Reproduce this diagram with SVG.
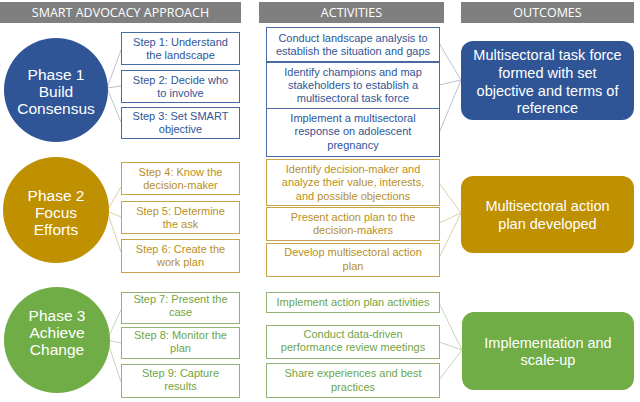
<svg xmlns="http://www.w3.org/2000/svg" width="640" height="402" viewBox="0 0 640 402">
<style>
  .hdr { fill: #7f7f7f; }
  .hdrt { font-family: "Open Sans", "Liberation Sans", sans-serif; font-size: 12.5px; fill: #ffffff; text-anchor: middle; }
  .t { font-family: "Liberation Sans", Arial, sans-serif; font-size: 11px; text-anchor: middle; }
  .ph { font-family: "Liberation Sans", Arial, sans-serif; font-size: 15.5px; fill: #ffffff; text-anchor: middle; }
  .out { font-family: "Liberation Sans", Arial, sans-serif; font-size: 14.5px; fill: #ffffff; text-anchor: middle; }
  .box { fill: #ffffff; stroke-width: 1; }
  .b { stroke: #4a6aa3; }
  .g { stroke: #c7a44a; }
  .gr { stroke: #93b27a; }
  .tb { fill: #2f5597; }
  .tg { fill: #b8901c; }
  .tgr { fill: #6fa546; }
  .c1 { fill: #2f5597; }
  .c2 { fill: #bf9000; }
  .c3 { fill: #70ad47; }
  .ln { fill: none; stroke-width: 0.8; }
  .lb { stroke: #a9b3c6; }
  .lg { stroke: #d3c28f; }
  .lgr { stroke: #b7c9a6; }
</style>

<g id="headers">
  <rect class="hdr" x="0" y="2" width="241" height="21"/>
  <text class="hdrt" x="120.5" y="17">SMART ADVOCACY APPROACH</text>
  <rect class="hdr" x="259" y="2" width="185" height="21"/>
  <text class="hdrt" x="351.5" y="17">ACTIVITIES</text>
  <rect class="hdr" x="461" y="2" width="173" height="21"/>
  <text class="hdrt" x="547.5" y="17">OUTCOMES</text>
</g>

<g id="connectors">
  <path class="ln lb" d="M107,88 L121,50 M107,88 L121,86 M107,88 L121,122"/>
  <path class="ln lg" d="M107,211 L121,187 M107,211 L121,217 M107,211 L121,252"/>
  <path class="ln lgr" d="M107,340 L121,310 M107,340 L121,343 M107,340 L121,382"/>
  <path class="ln lb" d="M439,43 L461,80 M439,85 L461,80 M439,133 L461,80"/>
  <path class="ln lg" d="M439,183 L461,213 M439,223 L461,213 M439,258 L461,213"/>
  <path class="ln lgr" d="M439,303 L462,350 M439,342 L462,350 M439,380 L462,350"/>
</g>

<g id="phase1">
  <circle class="c1" cx="56" cy="90" r="52"/>
  <text class="ph" x="56" y="79.5">Phase 1</text>
  <text class="ph" x="56" y="96.5">Build</text>
  <text class="ph" x="56" y="113.5">Consensus</text>
</g>
<g id="phase2">
  <circle class="c2" cx="56" cy="210" r="53"/>
  <text class="ph" x="56" y="200.5">Phase 2</text>
  <text class="ph" x="56" y="217.5">Focus</text>
  <text class="ph" x="56" y="234.5">Efforts</text>
</g>
<g id="phase3">
  <circle class="c3" cx="57" cy="340" r="53"/>
  <text class="ph" x="57" y="321">Phase 3</text>
  <text class="ph" x="57" y="338">Achieve</text>
  <text class="ph" x="57" y="355">Change</text>
</g>

<g id="step1"><rect class="box b" x="121.5" y="32.5" width="118" height="32"/><text class="t tb" x="180.5" y="45.5">Step 1: Understand</text><text class="t tb" x="180.5" y="58.5">the landscape</text></g>
<g id="step2"><rect class="box b" x="121.5" y="70.5" width="118" height="32"/><text class="t tb" x="180.5" y="83.5">Step 2: Decide who</text><text class="t tb" x="180.5" y="96.5">to involve</text></g>
<g id="step3"><rect class="box b" x="121.5" y="107.5" width="118" height="31"/><text class="t tb" x="180.5" y="120">Step 3: Set SMART</text><text class="t tb" x="180.5" y="133">objective</text></g>
<g id="step4"><rect class="box g" x="121.5" y="162.5" width="118" height="32"/><text class="t tg" x="180.5" y="175.5">Step 4: Know the</text><text class="t tg" x="180.5" y="188.5">decision-maker</text></g>
<g id="step5"><rect class="box g" x="121.5" y="201.5" width="118" height="32"/><text class="t tg" x="180.5" y="214.5">Step 5: Determine</text><text class="t tg" x="180.5" y="227.5">the ask</text></g>
<g id="step6"><rect class="box g" x="121.5" y="239.5" width="118" height="33"/><text class="t tg" x="180.5" y="253">Step 6: Create the</text><text class="t tg" x="180.5" y="266">work plan</text></g>
<g id="step7"><rect class="box gr" x="121.5" y="292.5" width="118" height="31"/><text class="t tgr" x="180.5" y="303">Step 7: Present the</text><text class="t tgr" x="180.5" y="316">case</text></g>
<g id="step8"><rect class="box gr" x="121.5" y="327.5" width="118" height="31"/><text class="t tgr" x="180.5" y="339">Step 8: Monitor the</text><text class="t tgr" x="180.5" y="352">plan</text></g>
<g id="step9"><rect class="box gr" x="121.5" y="364.5" width="118" height="33"/><text class="t tgr" x="180.5" y="377">Step 9: Capture</text><text class="t tgr" x="180.5" y="390">results</text></g>

<g id="act1"><rect class="box b" x="266.5" y="27.5" width="173" height="34"/><text class="t tb" x="353" y="41.5">Conduct landscape analysis to</text><text class="t tb" x="353" y="54.5">establish the situation and gaps</text></g>
<g id="act2"><rect class="box b" x="266.5" y="62.5" width="173" height="46"/><text class="t tb" x="353" y="76">Identify champions and map</text><text class="t tb" x="353" y="89">stakeholders to establish a</text><text class="t tb" x="353" y="102">multisectoral task force</text></g>
<g id="act3"><rect class="box b" x="266.5" y="108.5" width="173" height="48"/><text class="t tb" x="353" y="122">Implement a multisectoral</text><text class="t tb" x="353" y="135">response on adolescent</text><text class="t tb" x="353" y="148.5">pregnancy</text></g>
<g id="act4"><rect class="box g" x="266.5" y="159.5" width="173" height="46"/><text class="t tg" x="353" y="173">Identify decision-maker and</text><text class="t tg" x="353" y="186">analyze their value, interests,</text><text class="t tg" x="353" y="199.5">and possible objections</text></g>
<g id="act5"><rect class="box g" x="266.5" y="207.5" width="173" height="33"/><text class="t tg" x="353" y="221">Present action plan to the</text><text class="t tg" x="353" y="234">decision-makers</text></g>
<g id="act6"><rect class="box g" x="266.5" y="243.5" width="173" height="33"/><text class="t tg" x="353" y="256">Develop multisectoral action</text><text class="t tg" x="353" y="269.5">plan</text></g>
<g id="act7"><rect class="box gr" x="266.5" y="292.5" width="173" height="20"/><text class="t tgr" x="353" y="306">Implement action plan activities</text></g>
<g id="act8"><rect class="box gr" x="266.5" y="325.5" width="173" height="33"/><text class="t tgr" x="353" y="337.5">Conduct data-driven</text><text class="t tgr" x="353" y="351">performance review meetings</text></g>
<g id="act9"><rect class="box gr" x="266.5" y="363.5" width="173" height="34"/><text class="t tgr" x="353" y="377">Share experiences and best</text><text class="t tgr" x="353" y="391">practices</text></g>

<g id="outcome1"><rect class="c1" x="461" y="41" width="173" height="79" rx="12"/><text class="out" x="547.5" y="60">Multisectoral task force</text><text class="out" x="547.5" y="78">formed with set</text><text class="out" x="547.5" y="95.5">objective and terms of</text><text class="out" x="547.5" y="112.5">reference</text></g>
<g id="outcome2"><rect class="c2" x="461" y="176" width="173" height="77" rx="12"/><text class="out" x="547.5" y="211">Multisectoral action</text><text class="out" x="547.5" y="229">plan developed</text></g>
<g id="outcome3"><rect class="c3" x="462" y="312" width="172" height="78" rx="12"/><text class="out" x="548" y="348">Implementation and</text><text class="out" x="548" y="365">scale-up</text></g>
</svg>
